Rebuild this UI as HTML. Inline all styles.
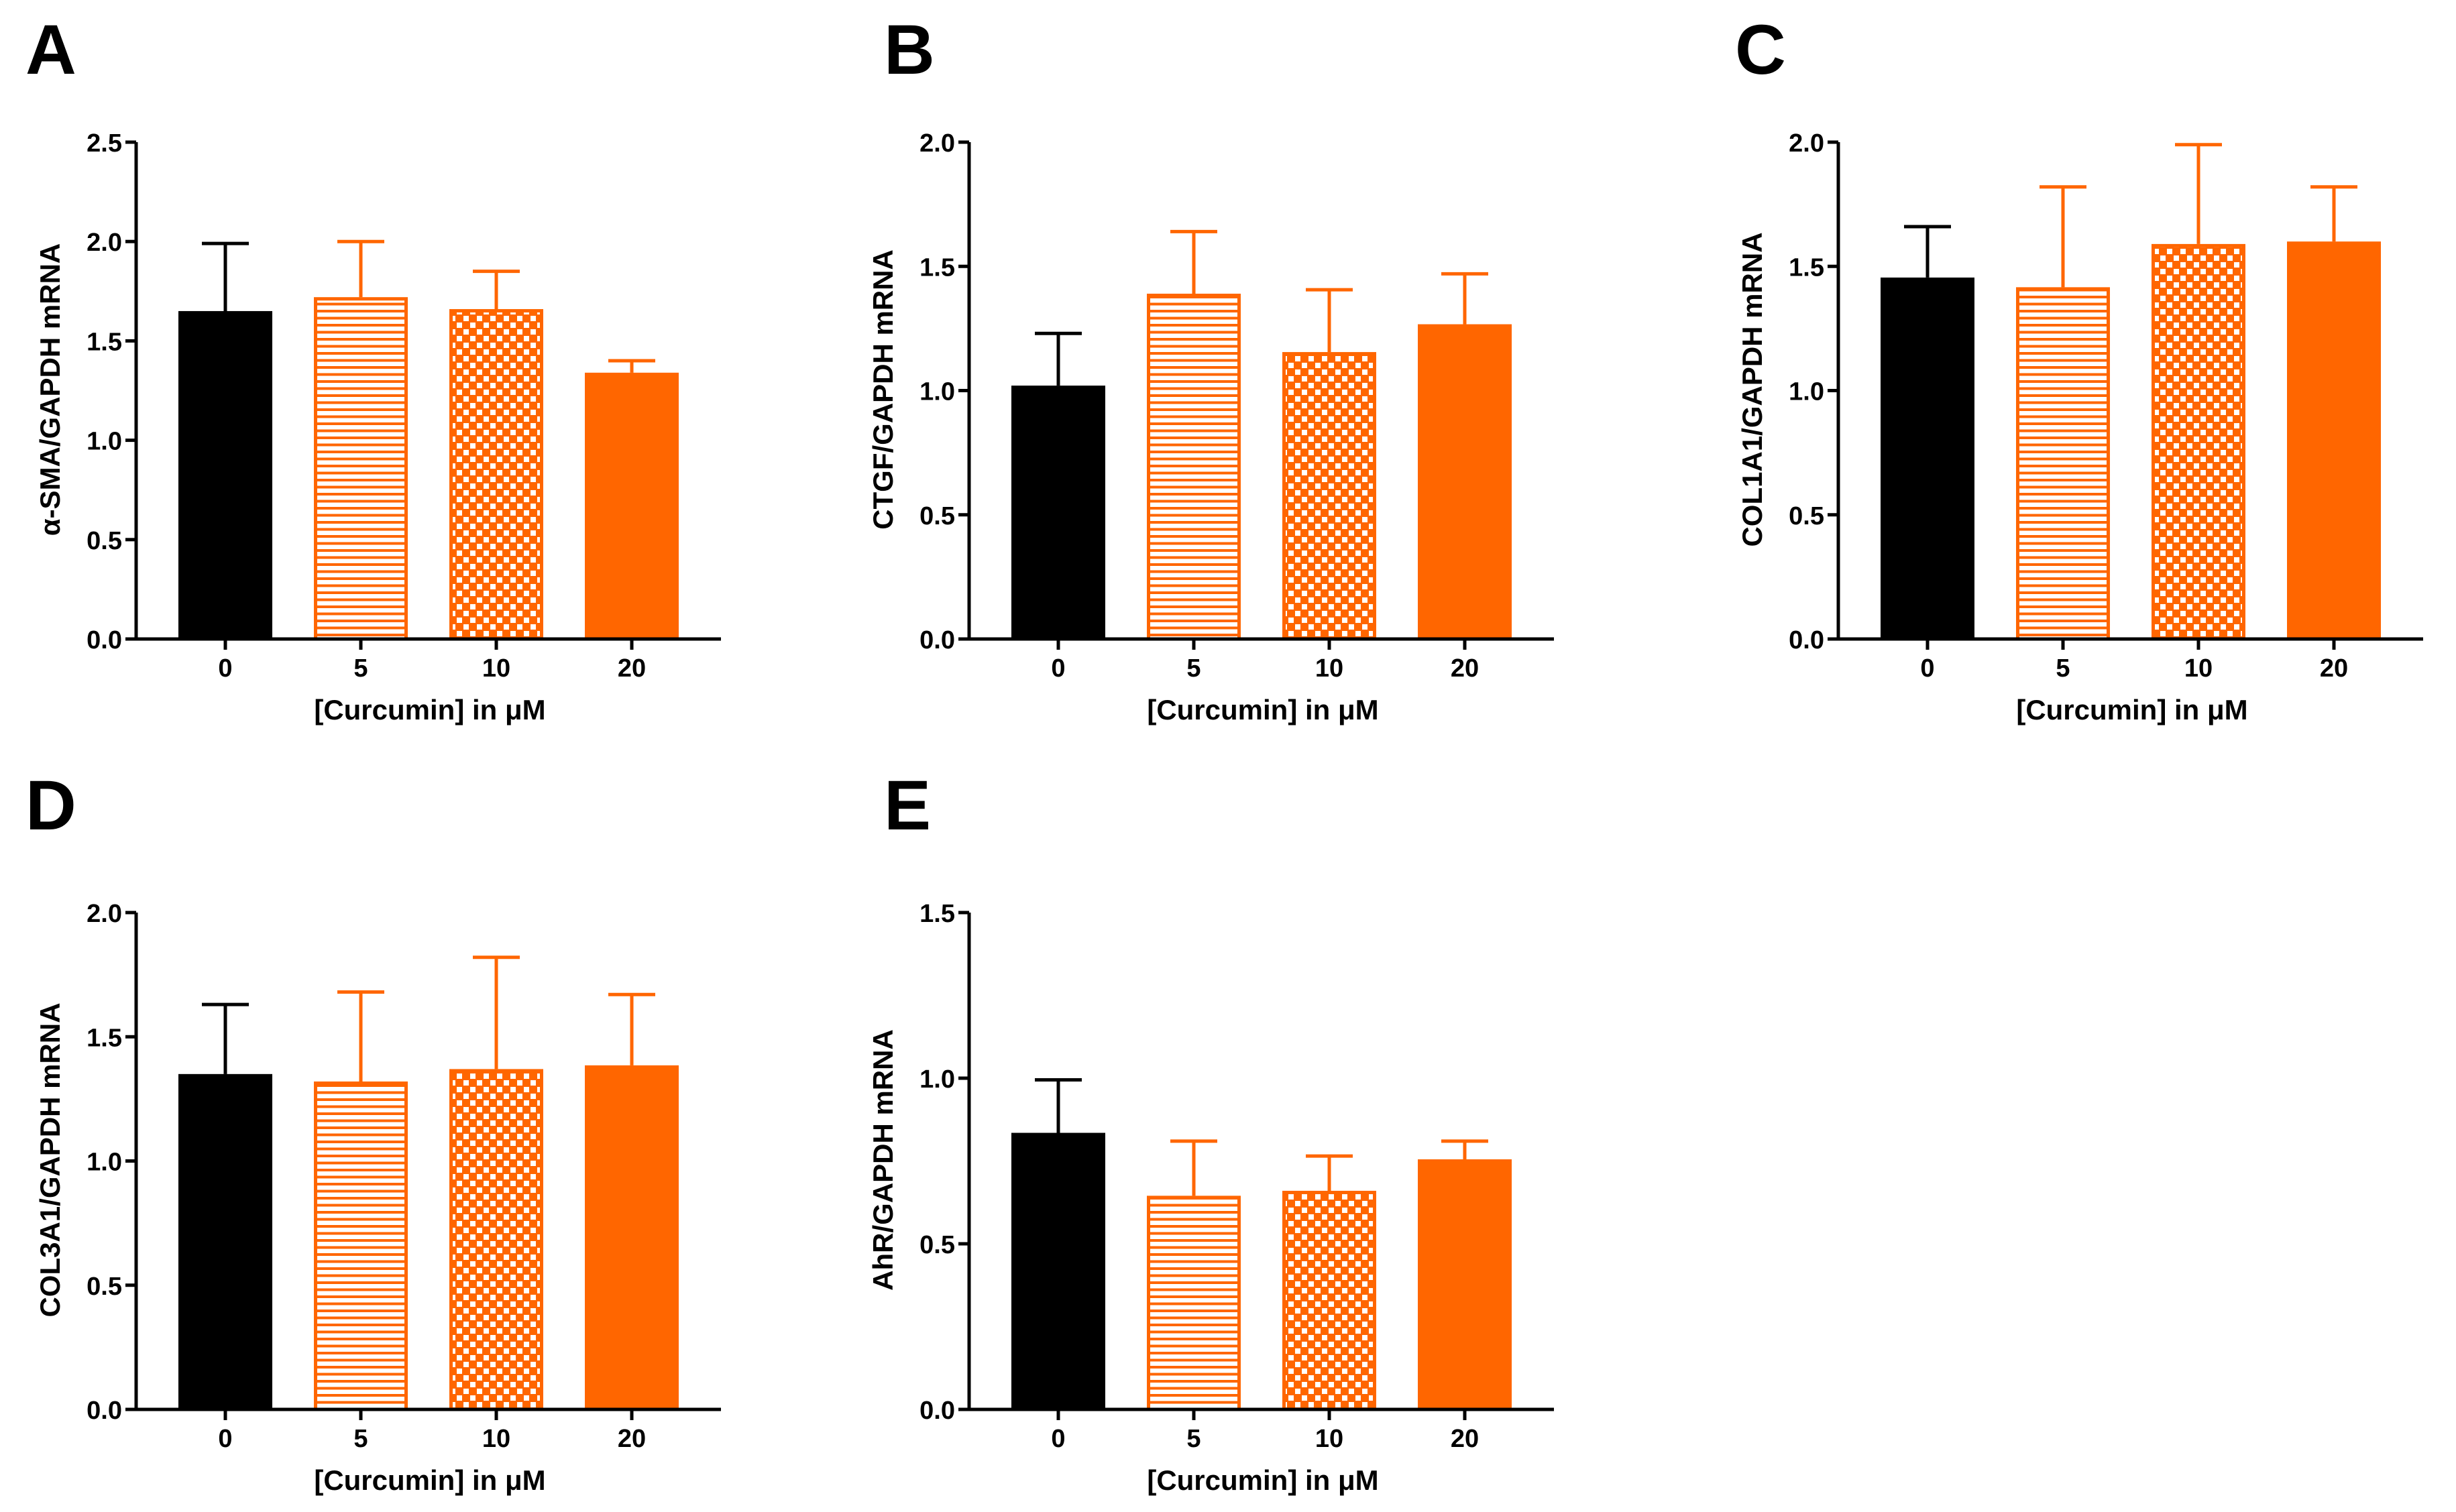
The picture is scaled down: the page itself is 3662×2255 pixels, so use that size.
<!DOCTYPE html>
<html><head><meta charset="utf-8"><style>
html,body{margin:0;padding:0;background:#fff;}
svg{display:block;font-family:"Liberation Sans",Arial,sans-serif;font-weight:bold;}
</style></head><body>
<svg id="fig" width="3662" height="2255" viewBox="0 0 3662 2255" xmlns="http://www.w3.org/2000/svg">
<defs>
<pattern id="stripes" patternUnits="userSpaceOnUse" width="20" height="10.5">
<rect x="0" y="0" width="20" height="10.5" fill="#fff"/>
<rect x="0" y="0" width="20" height="4" fill="#FF6600"/>
</pattern>
<pattern id="checks" patternUnits="userSpaceOnUse" width="20" height="20">
<rect x="0" y="0" width="20" height="20" fill="#FF6600"/>
<rect x="1" y="1" width="8" height="8" fill="#fff"/>
<rect x="11" y="11" width="8" height="8" fill="#fff"/>
</pattern>
</defs>
</svg>
<script>
const categories = ["0","5","10","20"];
const panelLetters = ["A","B","C","D","E"];
const yTitles = ["α-SMA/GAPDH mRNA","CTGF/GAPDH mRNA","COL1A1/GAPDH mRNA","COL3A1/GAPDH mRNA","AhR/GAPDH mRNA"];
const yMaxes = [2.5, 2.0, 2.0, 2.0, 1.5];
const yTicksA = ["0.0","0.5","1.0","1.5","2.0","2.5"];
const yTicksB = ["0.0","0.5","1.0","1.5","2.0"];
const yTicksC = ["0.0","0.5","1.0","1.5","2.0"];
const yTicksD = ["0.0","0.5","1.0","1.5","2.0"];
const yTicksE = ["0.0","0.5","1.0","1.5"];
const meansA = [1.65, 1.72, 1.66, 1.34];
const errTopA = [1.99, 2.00, 1.85, 1.40];
const meansB = [1.02, 1.39, 1.155, 1.267];
const errTopB = [1.23, 1.64, 1.406, 1.47];
const meansC = [1.455, 1.416, 1.59, 1.60];
const errTopC = [1.66, 1.82, 1.99, 1.82];
const meansD = [1.35, 1.32, 1.37, 1.385];
const errTopD = [1.63, 1.68, 1.82, 1.67];
const meansE = [0.835, 0.645, 0.66, 0.755];
const errTopE = [0.995, 0.81, 0.765, 0.81];
const xTitle = "[Curcumin] in μM";

const allTicks=[yTicksA,yTicksB,yTicksC,yTicksD,yTicksE];
const allMeans=[meansA,meansB,meansC,meansD,meansE];
const allErr=[errTopA,errTopB,errTopC,errTopD,errTopE];
const origins=[[203,953],[1445,953],[2741,953],[203,2102],[1445,2102]];
const letterPos=[[38,110],[1318,110],[2587,110],[38,1237],[1318,1237]];
const fills=["#000","url(#stripes)","url(#checks)","#FF6600"];
const strokes=["#000","#FF6600","#FF6600","#FF6600"];
const NS="http://www.w3.org/2000/svg";
const svg=document.getElementById('fig');
function mk(tag,attrs,parent){const e=document.createElementNS(NS,tag);for(const k in attrs)e.setAttribute(k,attrs[k]);(parent||svg).appendChild(e);return e;}
const PH=741, PW=872;
for(let p=0;p<5;p++){
  const [ox,oy]=origins[p];
  const g=mk('g',{});
  
  
  const yS=v=>oy-v/yMaxes[p]*PH;
  const xS=i=>ox+133+i*202;
  const lt=mk('text',{x:letterPos[p][0],y:letterPos[p][1],'font-size':105,fill:'#000'},g);
  lt.textContent=panelLetters[p];
  
  
  const means=allMeans[p], errs=allErr[p];
  for(let i=0;i<categories.length;i++){
    const cx=xS(i), top=yS(means[i]), et=yS(errs[i]);
    const eb=mk('path',{d:`M${cx} ${top} L${cx} ${et} M${cx-35} ${et} L${cx+35} ${et}`,stroke:strokes[i],'stroke-width':5,fill:'none'},g);
    
    
    const patterned=(i===1||i===2);
    const r=mk('rect',{x:cx-70+(patterned?2.5:0),y:top+(patterned?2.5:0),width:140-(patterned?5:0),height:Math.max(0,oy-top-(patterned?2.5:0)),fill:fills[i],stroke:patterned?strokes[i]:'none','stroke-width':5},g);
    
    
    const tk=mk('line',{x1:cx,y1:oy,x2:cx,y2:oy+16,stroke:'#000','stroke-width':5},g);
    
    
    const tl=mk('text',{x:cx,y:oy+56,'font-size':38,'text-anchor':'middle',fill:'#000'},g);
    tl.textContent=categories[i];
    
    
  }
  const ax=mk('path',{d:`M${ox} ${oy-PH} L${ox} ${oy} L${ox+PW} ${oy}`,stroke:'#000','stroke-width':5,fill:'none'},g);
  
  
  const ticks=allTicks[p];
  for(let t=0;t<ticks.length;t++){
    const y=yS(parseFloat(ticks[t]));
    const tk=mk('line',{x1:ox-16,y1:y,x2:ox,y2:y,stroke:'#000','stroke-width':5},g);
    
    
    const tl=mk('text',{x:ox-21,y:y+14,'font-size':38,'text-anchor':'end',fill:'#000'},g);
    tl.textContent=ticks[t];
    
    
  }
  const yt=mk('text',{x:0,y:0,'font-size':42,'text-anchor':'middle',fill:'#000',transform:`translate(${ox-114},${oy-372}) rotate(-90)`},g);
  yt.textContent=yTitles[p];
  
  
  const xt=mk('text',{x:ox+438,y:oy+120,'font-size':42,'text-anchor':'middle',fill:'#000'},g);
  xt.textContent=xTitle;
  
  
}
</script>
</body></html>
